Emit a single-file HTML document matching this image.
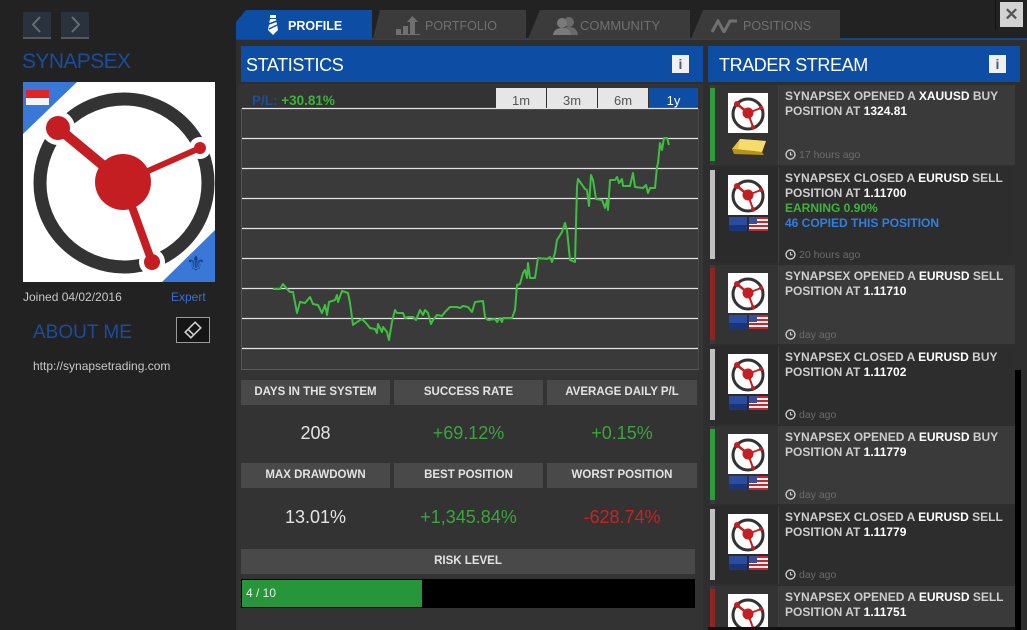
<!DOCTYPE html>
<html><head><meta charset="utf-8">
<style>
*{margin:0;padding:0;box-sizing:border-box}
body{width:1027px;height:630px;overflow:hidden;background:#222;font-family:"Liberation Sans",sans-serif;position:relative}
.a{position:absolute}
.tab{position:absolute;top:10px;height:29px;background:#3b3b3b;color:#707070;font-size:12.5px;line-height:32px}
.lbl{position:absolute;height:25px;background:#494949;color:#e2e2e2;font-weight:bold;font-size:11.5px;line-height:25px;text-align:center}
.val{position:absolute;height:30px;line-height:30px;font-size:18px;text-align:center}
.tf{position:absolute;top:88px;height:20px;background:#e6e6e6;color:#555;font-size:13px;line-height:25px;text-align:center}
.it{position:absolute;left:710px;width:305px;overflow:hidden}
.it .bar{position:absolute;left:0;top:3px;bottom:4px;width:5px}
.it .col{position:absolute;left:5px;top:0;bottom:0;width:64px;border-right:1px solid #404040}
.it .av{position:absolute;left:18px;top:8px;width:40px;height:40px;background:#fff}
.it .tx{position:absolute;left:75px;top:4px;width:228px;font-size:12px;line-height:15px;font-weight:bold;color:#cdcdcd;white-space:nowrap}
.it .tx b{color:#fff}
.it .tm{position:absolute;left:75px;font-size:10.5px;color:#6c6c6c;line-height:12px}
.it .tm svg{vertical-align:-2px;margin-right:3px}
</style></head><body>

<!-- left panel -->
<div class="a" style="left:23px;top:12px;width:28px;height:27px;background:#2a323d;border-bottom:2px solid #55595e">
<svg width="28" height="25"><polyline points="17,5 10,12.5 17,20" fill="none" stroke="#6a6e74" stroke-width="2"/></svg></div>
<div class="a" style="left:61px;top:12px;width:28px;height:27px;background:#2a323d;border-bottom:2px solid #55595e">
<svg width="28" height="25"><polyline points="11,5 18,12.5 11,20" fill="none" stroke="#6a6e74" stroke-width="2"/></svg></div>
<div class="a" style="left:22px;top:48px;font-size:21px;letter-spacing:-0.6px;color:#1b4c9e;line-height:28px">SYNAPSEX</div>

<div class="a" style="left:23px;top:82px;width:192px;height:200px;background:#fff;overflow:hidden">
<svg width="192" height="200" viewBox="0 0 192 200">
<circle cx="101" cy="101" r="84" fill="none" stroke="#333" stroke-width="13"/>
<g stroke="#fff" stroke-linecap="round">
<line x1="100" y1="100" x2="35" y2="46" stroke-width="18"/>
<line x1="100" y1="100" x2="177" y2="66" stroke-width="14"/>
<line x1="100" y1="100" x2="129" y2="180" stroke-width="15"/>
</g>
<circle cx="35" cy="46" r="17" fill="#fff"/>
<circle cx="177" cy="66" r="11" fill="#fff"/>
<circle cx="129" cy="180" r="13" fill="#fff"/>
<g stroke="#c41e22" stroke-linecap="round">
<line x1="100" y1="100" x2="35" y2="46" stroke-width="10"/>
<line x1="100" y1="100" x2="177" y2="66" stroke-width="6"/>
<line x1="100" y1="100" x2="129" y2="180" stroke-width="8"/>
</g>
<circle cx="35" cy="46" r="12" fill="#c41e22"/>
<circle cx="177" cy="66" r="6" fill="#c41e22"/>
<circle cx="129" cy="180" r="8" fill="#c41e22"/>
<circle cx="100" cy="100" r="28" fill="#c41e22"/>
<polygon points="0,0 54,0 0,52" fill="#3a78d8"/>
<rect x="3" y="8" width="23" height="8" fill="#e0242a"/>
<rect x="3" y="16" width="23" height="7" fill="#f4f4f4"/>
<polygon points="192,148 192,200 139,200" fill="#3a78d8"/>
</svg>
<div class="a" style="left:163px;top:170px;font-size:22px;color:#1a3f8a;line-height:24px">⚜</div>
</div>

<div class="a" style="left:23px;top:289px;font-size:12px;color:#c8c8c8;line-height:16px">Joined 04/02/2016</div>
<div class="a" style="left:171px;top:289px;font-size:12px;color:#3a6fd0;line-height:16px">Expert</div>
<div class="a" style="left:33px;top:321px;font-size:19px;color:#1b4c9e;line-height:24px">ABOUT ME</div>
<div class="a" style="left:176px;top:317px;width:34px;height:26px;background:#151515;border:1px solid #9a9a9a">
<svg width="32" height="24"><g transform="rotate(-45 16 12)"><rect x="9" y="8" width="14" height="8" fill="none" stroke="#ccc" stroke-width="1.6"/><line x1="13" y1="8" x2="13" y2="16" stroke="#ccc" stroke-width="1.6"/></g></svg></div>
<div class="a" style="left:33px;top:358px;font-size:12px;color:#c8c8c8;line-height:16px">http://synapsetrading.com</div>

<!-- main area -->
<div class="a" style="left:236px;top:38px;width:791px;height:592px;background:#2e2e2e"></div>
<div class="a" style="left:236px;top:38px;width:791px;height:2px;background:#184682"></div>
<div class="a" style="left:238px;top:84px;width:465px;height:546px;background:#333"></div>

<!-- tabs -->
<div class="tab" style="left:236px;width:136px;background:#0e4da4;color:#fff;font-weight:bold;clip-path:polygon(0 100%,0 12px,10px 0,100% 0,100% 100%)">
<svg class="a" style="left:31px;top:5px" width="12" height="20"><rect x="3" y="0" width="6" height="3" fill="#fff"/><polygon points="3,4 9,4 11,15 6,20 1,15" fill="#fff"/><line x1="2" y1="9" x2="10" y2="6" stroke="#0e4da4" stroke-width="1.5"/><line x1="2" y1="14" x2="10" y2="10" stroke="#0e4da4" stroke-width="1.5"/></svg>
<span class="a" style="left:52px;top:0;font-size:12.5px">PROFILE</span></div>
<div class="tab" style="left:373px;width:153px;clip-path:polygon(0 100%,7px 0,100% 0,100% 100%)">
<svg class="a" style="left:23px;top:6px" width="24" height="19"><rect x="0" y="13" width="5" height="5" fill="#707070"/><rect x="7" y="10" width="5" height="8" fill="#707070"/><rect x="14" y="6" width="5" height="12" fill="#707070"/><polygon points="16.5,0 22,6 11,6" fill="#707070"/><rect x="0" y="18" width="24" height="1.5" fill="#707070"/></svg>
<span class="a" style="left:52px;top:0">PORTFOLIO</span></div>
<div class="tab" style="left:528px;width:162px;clip-path:polygon(0 100%,12px 0,100% 0,100% 100%)">
<svg class="a" style="left:25px;top:6px" width="26" height="19"><circle cx="16" cy="6" r="5" fill="#6a6a6a"/><path d="M7 19 Q8 11 16 11 Q24 11 25 19Z" fill="#6a6a6a"/><circle cx="9" cy="7" r="5" fill="#7a7a7a"/><path d="M0 19 Q1 12 9 12 Q17 12 18 19Z" fill="#7a7a7a"/></svg>
<span class="a" style="left:52px;top:0;font-size:13px">COMMUNITY</span></div>
<div class="tab" style="left:691px;width:149px;clip-path:polygon(0 100%,12px 0,100% 0,100% 100%)">
<svg class="a" style="left:20px;top:9px" width="28" height="14"><polyline points="1,13 7,2 13,13 19,2 26,2" fill="none" stroke="#707070" stroke-width="3"/></svg>
<span class="a" style="left:52px;top:0">POSITIONS</span></div>

<div class="a" style="left:995px;top:0;width:1px;height:30px;background:#111"></div>
<div class="a" style="left:1000px;top:2px;width:23px;height:25px;background:#d2d2d2;color:#555;font-weight:bold;font-size:17px;line-height:25px;text-align:center">✕</div>

<!-- statistics header -->
<div class="a" style="left:241px;top:46px;width:462px;height:36px;background:#0e4da4"></div>
<div class="a" style="left:246px;top:53px;font-size:18px;letter-spacing:-0.4px;color:#fff;line-height:24px">STATISTICS</div>
<div class="a" style="left:672px;top:55px;width:17px;height:18px;background:#f0f0f0;color:#4a5a7a;font-weight:bold;font-size:14px;line-height:18px;text-align:center">i</div>

<div class="a" style="left:252px;top:93px;font-size:13.5px;font-weight:bold;line-height:16px"><span style="color:#1e4d9a">P/L:</span> <span style="color:#3cb43c">+30.81%</span></div>
<div class="tf" style="left:496px;width:50px">1m</div>
<div class="tf" style="left:547px;width:50px">3m</div>
<div class="tf" style="left:598px;width:50px">6m</div>
<div class="tf" style="left:649px;width:49px;background:#0e4da4;color:#fff">1y</div>

<svg class="a" style="left:241px;top:107px" width="462" height="264" viewBox="241 107 462 264">
<rect x="241" y="108" width="457" height="261" fill="#3a3a3a"/>
<line x1="241.5" y1="108" x2="241.5" y2="369" stroke="#555"/>
<line x1="698.5" y1="108" x2="698.5" y2="369" stroke="#4a4a4a"/>
<line x1="701.5" y1="108" x2="701.5" y2="370" stroke="#3c3c3c"/>
<line x1="241" y1="369.5" x2="699" y2="369.5" stroke="#5a5a5a"/>
<g stroke="#e4e4e4" stroke-width="1.2">
<line x1="242" y1="108.5" x2="698" y2="108.5"/>
<line x1="242" y1="138.5" x2="698" y2="138.5"/>
<line x1="242" y1="168.5" x2="698" y2="168.5"/>
<line x1="242" y1="198.5" x2="698" y2="198.5"/>
<line x1="242" y1="228.5" x2="698" y2="228.5"/>
<line x1="242" y1="258.5" x2="698" y2="258.5"/>
<line x1="242" y1="288.5" x2="698" y2="288.5"/>
<line x1="242" y1="318.5" x2="698" y2="318.5"/>
<line x1="242" y1="348.5" x2="698" y2="348.5"/>
</g>
<polyline fill="none" stroke="#3fbf3f" stroke-width="2" stroke-linejoin="round" points="273,289 280,289 283,284 287,289 290,292 293,292 297,313 300,302 305,303 310,297 313,304 318,305 322,313 325,305 327,315 329,302 335,300 337,295 338,302 342,291 348,293 350,303 353,325 357,322 362,319 366,323 370,328 375,329 377,333 378,324 382,332 383,327 387,332 389,340 392,322 395,310 397,313 403,313 405,318 408,317 413,317 416,320 420,310 423,315 425,310 428,313 431,324 433,320 437,315 442,316 445,312 450,307 457,307 460,308 463,306 468,307 472,312 475,302 483,301 485,317 488,320 495,319 497,322 500,318 502,322 503,318 512,318 515,310 517,285 520,284 523,273 525,270 527,278 528,263 530,278 535,278 538,258 547,259 550,257 552,262 555,253 557,240 562,232 565,223 567,230 570,260 575,262 577,187 578,179 585,189 587,190 589,206 591,175 593,180 596,199 602,200 605,208 607,200 608,210 610,180 615,180 617,177 619,183 622,179 623,186 630,186 633,173 635,187 643,188 646,185 648,193 650,188 655,188 657,167 658,163 660,143 662,150 664,138 667,138 669,145"/>
</svg>

<!-- stat boxes -->
<div class="lbl" style="left:241px;top:380px;width:149px">DAYS IN THE SYSTEM</div>
<div class="lbl" style="left:394px;top:380px;width:149px">SUCCESS RATE</div>
<div class="lbl" style="left:547px;top:380px;width:150px">AVERAGE DAILY P/L</div>
<div class="val" style="left:241px;top:418px;width:149px;color:#e4e4e4">208</div>
<div class="val" style="left:394px;top:418px;width:149px;color:#3aa63a">+69.12%</div>
<div class="val" style="left:547px;top:418px;width:150px;color:#3aa63a">+0.15%</div>
<div class="lbl" style="left:241px;top:463px;width:149px">MAX DRAWDOWN</div>
<div class="lbl" style="left:394px;top:463px;width:149px">BEST POSITION</div>
<div class="lbl" style="left:547px;top:463px;width:150px">WORST POSITION</div>
<div class="val" style="left:241px;top:502px;width:149px;color:#e4e4e4">13.01%</div>
<div class="val" style="left:394px;top:502px;width:149px;color:#3aa63a">+1,345.84%</div>
<div class="val" style="left:547px;top:502px;width:150px;color:#cc2222">-628.74%</div>
<div class="lbl" style="left:241px;top:549px;width:454px">RISK LEVEL</div>
<div class="a" style="left:241px;top:579px;width:454px;height:29px;background:#000"></div>
<div class="a" style="left:242px;top:580px;width:180px;height:27px;background:#27963a;color:#e8e8e8;font-size:12px;line-height:27px;padding-left:4px">4 / 10</div>

<!-- trader stream -->
<div class="a" style="left:708px;top:46px;width:312px;height:36px;background:#0e4da4"></div>
<div class="a" style="left:719px;top:53px;font-size:18px;letter-spacing:-0.4px;color:#fff;line-height:24px">TRADER STREAM</div>
<div class="a" style="left:989px;top:55px;width:17px;height:18px;background:#f0f0f0;color:#4a5a7a;font-weight:bold;font-size:14px;line-height:18px;text-align:center">i</div>

<svg width="0" height="0" style="position:absolute">
<defs>
<g id="lg">
<rect width="40" height="40" fill="#fff"/>
<circle cx="20" cy="21" r="15" fill="none" stroke="#333" stroke-width="3"/>
<g stroke="#c41e22" stroke-linecap="round"><line x1="20" y1="20" x2="9" y2="11" stroke-width="2.5"/><line x1="20" y1="20" x2="33" y2="15" stroke-width="1.8"/><line x1="20" y1="20" x2="25" y2="34" stroke-width="2"/></g>
<circle cx="9" cy="11" r="3" fill="#c41e22"/><circle cx="33" cy="15" r="2" fill="#c41e22"/><circle cx="25" cy="34" r="2" fill="#c41e22"/>
<circle cx="20" cy="20" r="5.5" fill="#c41e22"/>
</g>
<g id="ck"><circle cx="5.5" cy="5.5" r="4.5" fill="none" stroke="#c8c8c8" stroke-width="1.4"/><polyline points="5.5,3 5.5,5.8 7.5,5.8" fill="none" stroke="#c8c8c8" stroke-width="1.2"/></g>
<g id="fg">
<rect x="0" y="0" width="18" height="14" fill="#2a4da0"/><rect x="0" y="8" width="18" height="6" fill="#1c347a"/>
<g transform="translate(20,0)"><rect width="19" height="14" fill="#f2f2f2"/><rect y="0" width="19" height="2" fill="#c8262e"/><rect y="4" width="19" height="2" fill="#c8262e"/><rect y="8" width="19" height="2" fill="#c8262e"/><rect y="12" width="19" height="2" fill="#c8262e"/><rect width="8" height="7" fill="#3a4f9a"/></g>
</g>
</defs></svg>

<div class="it" style="top:85px;height:80px;background:#3a3a3a">
<div class="col" style="background:#333"></div><div class="bar" style="background:#2f9a3e"></div>
<svg class="av" width="40" height="40"><use href="#lg"/></svg>
<svg class="a" style="left:18px;top:50px" width="40" height="22"><polygon points="4,14 12,4 38,6 34,17" fill="#e8c23a"/><polygon points="4,14 34,17 36,20 6,19" fill="#b8901a"/><polygon points="12,4 38,6 34,17 10,14" fill="#f6dc6a"/></svg>
<div class="tx">SYNAPSEX OPENED A <b>XAUUSD</b> BUY<br>POSITION AT <b>1324.81</b></div>
<div class="tm" style="top:64px"><svg width="11" height="11"><use href="#ck"/></svg>17 hours ago</div>
</div>

<div class="it" style="top:167px;height:96px;background:#2d2d2d">
<div class="col" style="background:#2b2b2b"></div><div class="bar" style="background:#c0c0c0"></div>
<svg class="av" width="40" height="40"><use href="#lg"/></svg>
<svg class="a" style="left:19px;top:50px" width="40" height="14"><use href="#fg"/></svg>
<div class="tx">SYNAPSEX CLOSED A <b>EURUSD</b> SELL<br>POSITION AT <b>1.11700</b><br><span style="color:#3cb43c">EARNING 0.90%</span><br><span style="color:#2f7fe0">46 COPIED THIS POSITION</span></div>
<div class="tm" style="top:82px"><svg width="11" height="11"><use href="#ck"/></svg>20 hours ago</div>
</div>

<div class="it" style="top:265px;height:79px;background:#3a3a3a">
<div class="col" style="background:#333"></div><div class="bar" style="background:#8e2424"></div>
<svg class="av" width="40" height="40"><use href="#lg"/></svg>
<svg class="a" style="left:19px;top:50px" width="40" height="14"><use href="#fg"/></svg>
<div class="tx">SYNAPSEX OPENED A <b>EURUSD</b> SELL<br>POSITION AT <b>1.11710</b></div>
<div class="tm" style="top:64px"><svg width="11" height="11"><use href="#ck"/></svg>day ago</div>
</div>

<div class="it" style="top:346px;height:78px;background:#2d2d2d">
<div class="col" style="background:#2b2b2b"></div><div class="bar" style="background:#c0c0c0"></div>
<svg class="av" width="40" height="40"><use href="#lg"/></svg>
<svg class="a" style="left:19px;top:50px" width="40" height="14"><use href="#fg"/></svg>
<div class="tx">SYNAPSEX CLOSED A <b>EURUSD</b> BUY<br>POSITION AT <b>1.11702</b></div>
<div class="tm" style="top:63px"><svg width="11" height="11"><use href="#ck"/></svg>day ago</div>
</div>

<div class="it" style="top:426px;height:78px;background:#3a3a3a">
<div class="col" style="background:#333"></div><div class="bar" style="background:#2f9a3e"></div>
<svg class="av" width="40" height="40"><use href="#lg"/></svg>
<svg class="a" style="left:19px;top:50px" width="40" height="14"><use href="#fg"/></svg>
<div class="tx">SYNAPSEX OPENED A <b>EURUSD</b> BUY<br>POSITION AT <b>1.11779</b></div>
<div class="tm" style="top:63px"><svg width="11" height="11"><use href="#ck"/></svg>day ago</div>
</div>

<div class="it" style="top:506px;height:78px;background:#2d2d2d">
<div class="col" style="background:#2b2b2b"></div><div class="bar" style="background:#c0c0c0"></div>
<svg class="av" width="40" height="40"><use href="#lg"/></svg>
<svg class="a" style="left:19px;top:50px" width="40" height="14"><use href="#fg"/></svg>
<div class="tx">SYNAPSEX CLOSED A <b>EURUSD</b> SELL<br>POSITION AT <b>1.11779</b></div>
<div class="tm" style="top:63px"><svg width="11" height="11"><use href="#ck"/></svg>day ago</div>
</div>

<div class="it" style="top:586px;height:41px;background:#3a3a3a">
<div class="col" style="background:#333"></div><div class="bar" style="background:#8e2424;bottom:0"></div>
<svg class="av" width="40" height="40"><use href="#lg"/></svg>
<div class="tx">SYNAPSEX OPENED A <b>EURUSD</b> SELL<br>POSITION AT <b>1.11751</b></div>
</div>
<div class="a" style="left:708px;top:627px;width:310px;height:3px;background:#111"></div>

<div class="a" style="left:1015px;top:370px;width:6px;height:260px;background:#000"></div>
</body></html>
